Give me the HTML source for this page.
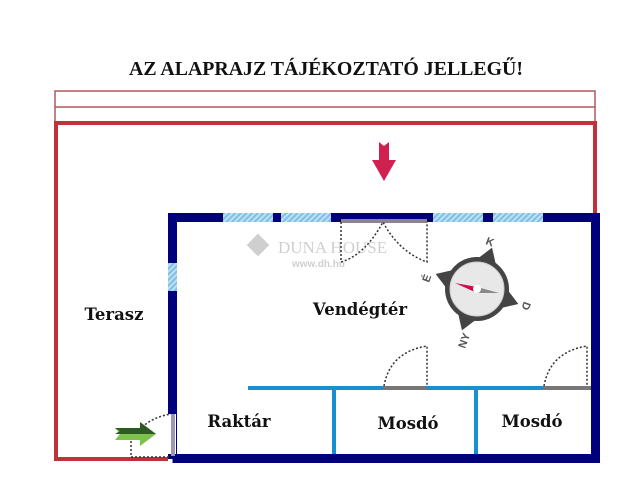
<!DOCTYPE html>
<html><head><meta charset="utf-8"><style>
html,body{margin:0;padding:0;background:#fff;}
svg{display:block;}
.l{font-family:"DejaVu Serif","Liberation Serif",serif;font-weight:bold;font-size:16.5px;fill:#111;}
</style></head><body>
<svg width="640" height="500" viewBox="0 0 640 500" xmlns="http://www.w3.org/2000/svg">
<defs>
<pattern id="h" width="4" height="4" patternUnits="userSpaceOnUse" patternTransform="rotate(45)">
<rect width="4" height="4" fill="#bfe0f3"/><rect width="2" height="4" fill="#7fbfe6"/>
</pattern>
</defs>
<text x="326" y="75" text-anchor="middle" font-family="Liberation Serif,serif" font-weight="bold" font-size="19.5" fill="#111" textLength="394" lengthAdjust="spacingAndGlyphs">AZ ALAPRAJZ TÁJÉKOZTATÓ JELLEGŰ!</text>
<rect x="55" y="91" width="540" height="31" fill="none" stroke="#b05a5a" stroke-width="1.5"/>
<line x1="55" y1="107" x2="595" y2="107" stroke="#b05a5a" stroke-width="1.5"/>
<rect x="56" y="123" width="539" height="336" fill="none" stroke="#c0313a" stroke-width="4"/>
<polygon points="379,142 384,146 389,142 389,160 396,160 384,181 372,160 379,160" fill="#d0204f"/>
<rect x="168" y="213" width="432" height="251" fill="#fff"/>
<path d="M172.5 459 V217.5 H595.5 V458.5 H172.5" fill="none" stroke="#00007d" stroke-width="9"/>
<rect x="223" y="213" width="50" height="9" fill="url(#h)"/>
<rect x="281" y="213" width="50" height="9" fill="url(#h)"/>
<rect x="433" y="213" width="50" height="9" fill="url(#h)"/>
<rect x="493" y="213" width="50" height="9" fill="url(#h)"/>
<rect x="168" y="263" width="9" height="28" fill="url(#h)"/>
<rect x="341" y="219" width="86" height="4" fill="#8a8494"/>
<path d="M341 222 V262 Q365 255 383 222 Q399 252 427 262 V222" fill="none" stroke="#333" stroke-width="1.5" stroke-dasharray="2,2"/>
<rect x="166" y="414" width="10" height="40" fill="#fff"/>
<rect x="171" y="414" width="4" height="42" fill="#9e98b5"/>
<path d="M131 455 V440 Q145 418 171 414" fill="none" stroke="#333" stroke-width="1.5" stroke-dasharray="2,2"/>
<line x1="131" y1="457" x2="170" y2="457" stroke="#333" stroke-width="1.5" stroke-dasharray="2,2"/>
<polygon points="115,428 140,428 140,422 156,434 140,446 140,440 115,440 120,434" fill="#7dc24a"/>
<polygon points="115,428 140,428 140,422 156,434 115,434 120,431" fill="#2d5a22"/>
<line x1="248" y1="388" x2="591" y2="388" stroke="#1890d0" stroke-width="4"/>
<line x1="334" y1="388" x2="334" y2="454" stroke="#1890d0" stroke-width="4"/>
<line x1="476" y1="388" x2="476" y2="454" stroke="#1890d0" stroke-width="4"/>
<line x1="383" y1="388" x2="427" y2="388" stroke="#777" stroke-width="4"/>
<line x1="543" y1="388" x2="591" y2="388" stroke="#777" stroke-width="4"/>
<path d="M384 386 Q390 352 427 346 V386" fill="none" stroke="#333" stroke-width="1.5" stroke-dasharray="2,2"/>
<path d="M544 386 Q550 352 587 346 V386" fill="none" stroke="#333" stroke-width="1.5" stroke-dasharray="2,2"/>
<g opacity="0.35">
<rect x="250" y="237" width="16" height="16" fill="#777" transform="rotate(45 258 245)"/>
<text x="278" y="253" font-family="Liberation Serif,serif" font-size="17" fill="#777">DUNA HOUSE</text>
<text x="292" y="267" font-family="Liberation Sans,sans-serif" font-size="10" font-weight="bold" fill="#777">www.dh.hu</text>
</g>
<g transform="translate(477,289)">
<g transform="rotate(20)">
<polygon points="0,-44 -9,-30 9,-30" fill="#444"/>
<polygon points="0,44 -9,30 9,30" fill="#444"/>
<polygon points="44,0 30,-9 30,9" fill="#444"/>
<polygon points="-44,0 -30,-9 -30,9" fill="#444"/>
</g>
<circle r="32" fill="#444"/>
<circle r="27" fill="#e8e8e8" stroke="#ccc" stroke-width="1"/>
<polygon points="-22,-6 0,-2 0,4" fill="#c8104a"/>
<polygon points="22,4 0,-2 0,4" fill="#888"/>
<circle r="4" fill="#fff"/>
<text x="8" y="-45" font-family="Liberation Sans,sans-serif" font-weight="bold" font-size="11" fill="#555" transform="rotate(20 8 -45)">K</text>
<text x="47" y="12" font-family="Liberation Sans,sans-serif" font-weight="bold" font-size="11" fill="#555" transform="rotate(110 47 12)">D</text>
<text x="-12" y="60" font-family="Liberation Sans,sans-serif" font-weight="bold" font-size="11" fill="#555" transform="rotate(-70 -12 60)">NY</text>
<text x="-48" y="-6" font-family="Liberation Sans,sans-serif" font-weight="bold" font-size="11" fill="#555" transform="rotate(-70 -48 -6)">É</text>
</g>
<text class="l" x="114" y="320" text-anchor="middle">Terasz</text>
<text class="l" x="360" y="315" text-anchor="middle">Vendégtér</text>
<text class="l" x="239" y="427" text-anchor="middle">Raktár</text>
<text class="l" x="408" y="429" text-anchor="middle">Mosdó</text>
<text class="l" x="532" y="427" text-anchor="middle">Mosdó</text>
</svg>
</body></html>
